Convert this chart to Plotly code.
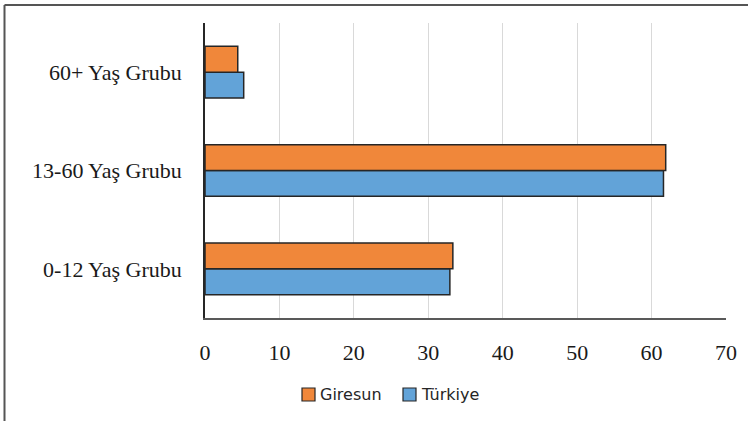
import plotly.graph_objects as go

categories = ["0-12 Yaş Grubu", "13-60 Yaş Grubu", "60+ Yaş Grubu"]
giresun = [33.3, 61.9, 4.4]
turkiye = [32.9, 61.6, 5.2]
x_ticks = [0, 10, 20, 30, 40, 50, 60, 70]
series_names = ["Giresun", "Türkiye"]
series_colors = ["#F0873A", "#62A3D8"]

W, H = 748, 421
ML, MR, MT, MB = 205, 22, 23, 103
PW, PH = W - ML - MR, H - MT - MB

def px(x):
    return (x - ML) / PW

def py(y):
    return (H - MB - y) / PH

fig = go.Figure()
fig.add_trace(go.Bar(
    y=categories, x=turkiye, name=series_names[1], orientation="h",
    marker=dict(color=series_colors[1], line=dict(color="#262626", width=1.5)),
))
fig.add_trace(go.Bar(
    y=categories, x=giresun, name=series_names[0], orientation="h",
    marker=dict(color=series_colors[0], line=dict(color="#262626", width=1.5)),
))

shapes = [
    dict(type="line", xref="paper", yref="paper",
         x0=px(4.5), x1=px(W + 2), y0=py(5), y1=py(5),
         line=dict(color="#555555", width=2)),
    dict(type="line", xref="paper", yref="paper",
         x0=px(4.5), x1=px(4.5), y0=py(5), y1=py(H + 2),
         line=dict(color="#555555", width=2)),
]
annotations = []
# manual legend (Excel style: small square right next to text)
legend_x = [302, 403]
for name, color, lx in zip(series_names, series_colors, legend_x):
    shapes.append(dict(type="rect", xref="paper", yref="paper",
                       x0=px(lx), x1=px(lx + 13), y0=py(388), y1=py(401),
                       fillcolor=color, line=dict(color="#262626", width=1.2)))
    annotations.append(dict(xref="paper", yref="paper", x=px(lx + 16), y=py(394.5),
                            xanchor="left", yanchor="middle", showarrow=False,
                            text=name,
                            font=dict(family="DejaVu Sans", size=16, color="#262626")))

fig.update_layout(
    width=W, height=H,
    margin=dict(l=ML, r=MR, t=MT, b=MB),
    paper_bgcolor="white", plot_bgcolor="white",
    barmode="group", bargap=0.475, bargroupgap=0,
    showlegend=False,
    xaxis=dict(
        range=[0, 70], tickvals=x_ticks, ticktext=[str(v) for v in x_ticks],
        showgrid=True, gridcolor="#D9D9D9", gridwidth=1.2,
        showline=True, linecolor="#595959", linewidth=1.5,
        zeroline=False, ticks="", ticklabelstandoff=14,
        tickfont=dict(family="Liberation Serif", size=22, color="#1a1a1a"),
    ),
    yaxis=dict(
        showgrid=False, showline=True, linecolor="#262626", linewidth=1.5,
        ticks="", ticklabelstandoff=17,
        tickfont=dict(family="Liberation Serif", size=22, color="#1a1a1a"),
    ),
    shapes=shapes,
    annotations=annotations,
)

fig.write_html("out.html", config={"displayModeBar": False},
               post_script="document.body.style.margin='0px';")
